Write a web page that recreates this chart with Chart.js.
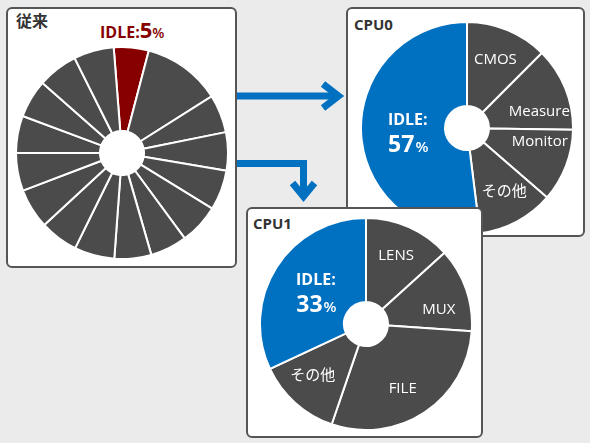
<!DOCTYPE html>
<html>
<head>
<meta charset="utf-8">
<script src="https://cdn.jsdelivr.net/npm/chart.js@4.4.0/dist/chart.umd.min.js"></script>
<style>
html, body { margin: 0; padding: 0; }
body { width: 590px; height: 443px; background: #ebebeb; position: relative; overflow: hidden;
       font-family: "Open Sans", "Noto Sans CJK JP", sans-serif; }
.panel { position: absolute; box-sizing: border-box; background: #fff; border: 2px solid #555; border-radius: 6px; }
.panel canvas { position: absolute; }
.ttl { position: absolute; font-weight: bold; color: #333; font-size: 15px; line-height: 15px; white-space: nowrap; }
#legacyIdle { position: absolute; left: 92px; top: 9px; color: #860000; font-weight: bold; line-height: 22px; font-size: 22px; white-space: nowrap; }
</style>
</head>
<body>

<svg width="590" height="443" style="position:absolute;left:0;top:0">
  <g fill="#0070c0">
    <rect x="230" y="92.5" width="106" height="7"/>
    <path d="M230 160 H307 V194 H300 V167 H230 Z"/>
  </g>
  <g fill="none" stroke="#0070c0" stroke-width="7" stroke-linejoin="miter">
    <polyline points="323,84 338.5,96 323,108"/>
    <polyline points="292.5,183 303.5,196.5 314.5,183"/>
  </g>
</svg>

<div class="panel" style="left:6px;top:7px;width:231px;height:261px;">
  <div class="ttl" style="left:8px;top:3px;font-size:16px;line-height:16px;font-family:'Noto Sans CJK JP';">従来</div>
  <div id="legacyIdle"><span style="font-size:16px">IDLE:</span><span>5</span><span style="font-size:14px;font-weight:600">%</span></div>
  <canvas id="legacy" width="214" height="214" style="left:7px;top:37px"></canvas>
</div>

<div class="panel" style="left:346px;top:7px;width:239px;height:230px;">
  <div class="ttl" style="left:6px;top:8px;">CPU0</div>
  <canvas id="cpu0" width="214" height="214" style="left:12px;top:12px"></canvas>
</div>

<div class="panel" style="left:246px;top:207px;width:237px;height:231px;">
  <div class="ttl" style="left:5px;top:7px;">CPU1</div>
  <canvas id="cpu1" width="214" height="214" style="left:11px;top:8px"></canvas>
</div>

<script>
// 従来: one core, IDLE first, then the other tasks clockwise
const legacyLabels = ['IDLE', 'T1', 'T2', 'T3', 'T4', 'T5', 'T6', 'T7', 'T8', 'T9', 'T10', 'T11', 'T12', 'T13', 'T14', 'T15'];
const legacyValues = [5.3, 11.9, 5.8, 5.8, 6.1, 6.1, 5.6, 5.6, 6.1, 5.8, 6.1, 5.8, 5.6, 5.8, 6.1, 6.1];

// CPU0, clockwise from the top
const cpu0Labels = ['CMOS', 'Measure', 'Monitor', 'その他', 'IDLE'];
const cpu0Values = [12.5, 12.8, 11.1, 11.7, 52];
const cpu0Idle = 57;

// CPU1, clockwise from the top
const cpu1Labels = ['LENS', 'MUX', 'FILE', 'その他', 'IDLE'];
const cpu1Values = [13.3, 12.8, 29.2, 12.8, 32];
const cpu1Idle = 33;

const GRAY = '#4b4b4b';
const BLUE = '#0070c0';
const RED = '#860000';

const sliceLabels = {
  id: 'sliceLabels',
  afterDatasetsDraw(chart, args, opts) {
    if (!opts.labels) return;
    const ctx = chart.ctx;
    const arcs = chart.getDatasetMeta(0).data;
    const turn = opts.turn || [];
    ctx.save();
    ctx.fillStyle = '#fff';
    arcs.forEach((arc, i) => {
      const p = arc.getProps(['x', 'y', 'startAngle', 'endAngle', 'outerRadius'], true);
      const mid = (p.startAngle + p.endAngle) / 2 + (turn[i] || 0) * Math.PI / 180;
      const isIdle = opts.labels[i] === 'IDLE';
      const r = p.outerRadius * (isIdle ? 0.56 : 0.7);
      const x = p.x + Math.cos(mid) * r;
      const y = p.y + Math.sin(mid) * r;
      if (isIdle) {
        ctx.textBaseline = 'alphabetic';
        ctx.textAlign = 'center';
        ctx.font = 'bold 16px "Open Sans"';
        ctx.fillText('IDLE:', x, y - 7);
        const num = String(opts.idle);
        ctx.font = 'bold 23px "Open Sans"';
        const w1 = ctx.measureText(num).width;
        ctx.font = '600 15px "Open Sans"';
        const w2 = ctx.measureText('%').width;
        const x0 = x - (w1 + w2) / 2;
        ctx.textAlign = 'left';
        ctx.font = 'bold 23px "Open Sans"';
        ctx.fillText(num, x0, y + 20);
        ctx.font = '600 15px "Open Sans"';
        ctx.fillText('%', x0 + w1 + 1, y + 20);
      } else {
        ctx.textAlign = 'center';
        ctx.textBaseline = 'middle';
        ctx.font = '15px "Open Sans", "Noto Sans CJK JP"';
        ctx.fillText(opts.labels[i], x, y);
      }
    });
    ctx.restore();
  }
};

function makePie(id, labels, values, colors, rotation, labelOpts) {
  return new Chart(document.getElementById(id), {
    type: 'doughnut',
    data: {
      labels: labels,
      datasets: [{
        data: values,
        backgroundColor: colors,
        borderColor: '#fff',
        borderWidth: 2,
        hoverOffset: 0
      }]
    },
    options: {
      responsive: false,
      animation: false,
      events: [],
      cutout: 22,
      rotation: rotation,
      layout: { padding: 0 },
      plugins: {
        legend: { display: false },
        tooltip: { enabled: false },
        sliceLabels: labelOpts
      }
    },
    plugins: [sliceLabels]
  });
}

makePie('legacy', legacyLabels, legacyValues,
  legacyLabels.map(l => l === 'IDLE' ? RED : GRAY), -4.5, {});
makePie('cpu0', cpu0Labels, cpu0Values,
  cpu0Labels.map(l => l === 'IDLE' ? BLUE : GRAY), 0,
  { labels: cpu0Labels, idle: cpu0Idle, turn: [0, 9, -10, -2, 0] });
makePie('cpu1', cpu1Labels, cpu1Values,
  cpu1Labels.map(l => l === 'IDLE' ? BLUE : GRAY), 0,
  { labels: cpu1Labels, idle: cpu1Idle, turn: [0, 8, 4, 4, 0] });
</script>
</body>
</html>
